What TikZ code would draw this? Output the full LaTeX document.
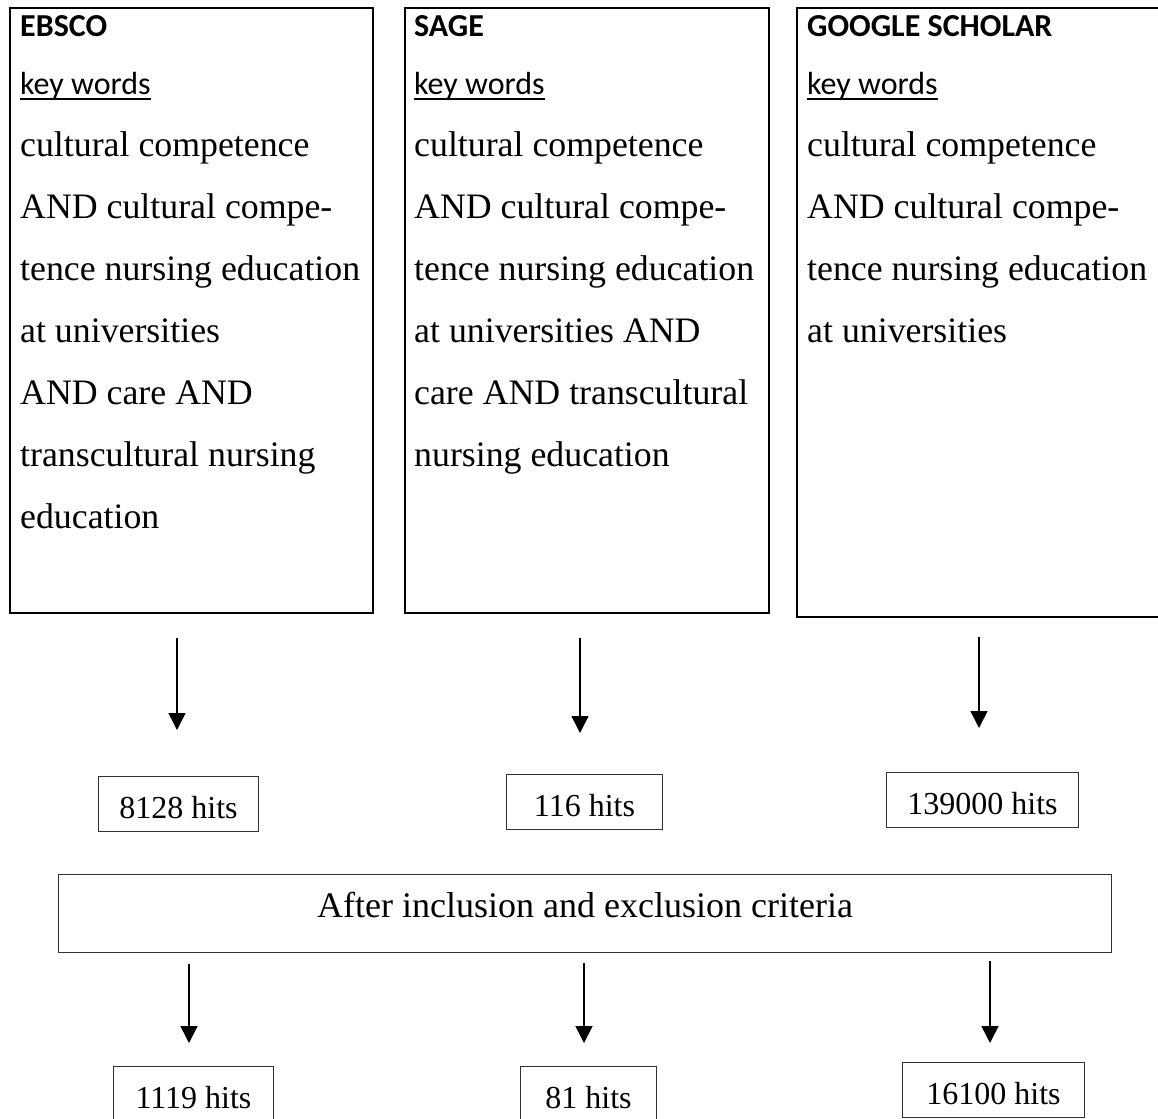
\documentclass[tikz,border=0pt]{standalone}
\usepackage{fontspec}
\setmainfont{Liberation Serif}
\newfontfamily\hdfont{Carlito}
\usetikzlibrary{arrows.meta}
\newsavebox\ulbox
\newcommand\myul[1]{\sbox\ulbox{#1}\usebox\ulbox\llap{\rule[-5pt]{\wd\ulbox}{2.4pt}}}
\newcommand\dbname[1]{{\fontsize{32}{62}\selectfont\hdfont\bfseries #1}}
\newcommand\kw{{\fontsize{32}{62}\selectfont\hdfont\myul{key words}}}
\newcommand\boxlines[1]{\begin{minipage}[t]{400pt}\fontsize{35.8}{62}\selectfont\raggedright #1\end{minipage}}
\begin{document}
\begin{tikzpicture}[x=1pt,y=-1pt,
  dbbox/.style={draw, line width=2pt, inner sep=0pt, anchor=north west},
  dbtext/.style={inner sep=0pt, anchor=base west},
  hitbox/.style={draw=black!80, line width=1pt, inner sep=0pt, anchor=north west,
    minimum height=55pt, text height=29pt, text depth=0pt, font=\fontsize{32}{38}\selectfont},
  critbox/.style={draw=black!80, line width=1pt, inner sep=0pt, anchor=north west,
    minimum height=78pt, text height=24pt, text depth=16pt, font=\fontsize{36}{42}\selectfont},
  flow/.style={line width=1.5pt, -{Triangle[width=17pt,length=17pt]}}]
\useasboundingbox (0,0) rectangle (1158,1118);

% database boxes
\node[dbbox, minimum width=363pt, minimum height=605pt] (ebsco) at (9,7) {};
\node[dbbox, minimum width=364pt, minimum height=605pt] (sage) at (404,7) {};
\node[dbbox, minimum width=369pt, minimum height=609pt] (google) at (796,7) {};

\node[dbtext] (ebscotxt) at (20,37) {\boxlines{\dbname{EBSCO}\\[-4pt]
\kw\\
cultural competence\\
AND cultural compe-\\
tence nursing education\\
at universities\\
AND care AND\\
transcultural nursing\\
education}};

\node[dbtext] (sagetxt) at (414,37) {\boxlines{\dbname{SAGE}\\[-4pt]
\kw\\
cultural competence\\
AND cultural compe-\\
tence nursing education\\
at universities AND\\
care AND transcultural\\
nursing education}};

\node[dbtext] (googletxt) at (807,37) {\boxlines{\dbname{GOOGLE SCHOLAR}\\[-4pt]
\kw\\
cultural competence\\
AND cultural compe-\\
tence nursing education\\
at universities}};

% first hits
\node[hitbox, minimum width=160pt] (h1) at (98,776) {8128 hits};
\node[hitbox, minimum width=156pt] (h2) at (506,774) {116 hits\hspace{14pt}};
\node[hitbox, minimum width=192pt] (h3) at (886,772) {139000 hits};

% criteria
\node[critbox, minimum width=1053pt] (crit) at (58,874) {After inclusion and exclusion criteria};

% final hits
\node[hitbox, minimum width=160pt] (f1) at (113,1066) {1119 hits};
\node[hitbox, minimum width=136pt] (f2) at (520,1066) {81 hits\hspace{11pt}};
\node[hitbox, minimum width=182pt] (f3) at (902,1062) {16100 hits\hspace{6pt}};

% arrow end points
\coordinate (a1s) at (177,638); \coordinate (a1e) at (177,730);
\coordinate (a2s) at (580,638); \coordinate (a2e) at (580,733);
\coordinate (a3s) at (979,637); \coordinate (a3e) at (979,728);
\coordinate (b1s) at (189,964); \coordinate (b1e) at (189,1043);
\coordinate (b2s) at (584,963); \coordinate (b2e) at (584,1043);
\coordinate (b3s) at (990,961); \coordinate (b3e) at (990,1043);

\draw[flow] (a1s) -- (a1e);
\draw[flow] (a2s) -- (a2e);
\draw[flow] (a3s) -- (a3e);
\draw[flow] (b1s) -- (b1e);
\draw[flow] (b2s) -- (b2e);
\draw[flow] (b3s) -- (b3e);
\end{tikzpicture}
\end{document}
